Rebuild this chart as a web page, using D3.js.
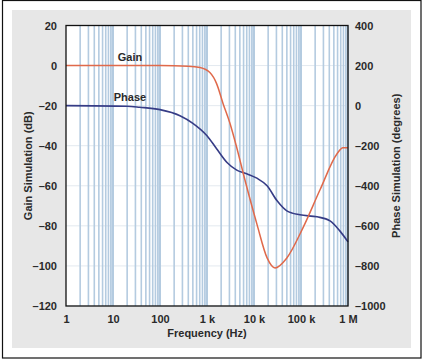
<!DOCTYPE html>
<html>
<head>
<meta charset="utf-8">
<script src="https://cdn.jsdelivr.net/npm/d3@7"></script>
<style>
  body { margin: 0; background: #fff; }
  text { font-family: "Liberation Sans", Arial, sans-serif; font-weight: bold; fill: #2a2a2a; }
</style>
</head>
<body>
<div id="chart"></div>
<script>
// values
var gainFreq = [1, 100, 400, 710, 1150, 1600, 2200, 3100, 4300, 6400, 11500, 19000, 28000, 50000, 110000, 254000, 585000, 780000, 1000000];
var gainDb   = [0, 0, -0.3, -1, -3.5, -9, -19, -29, -41, -57, -79, -96, -101, -96, -81, -62, -44, -41, -41];

var phaseFreq = [1, 20, 37, 100, 266, 500, 1000, 1600, 2700, 4300, 7000, 11500, 19000, 31000, 50000, 95000, 220000, 415000, 670000, 1000000];
var phaseDeg  = [0, -3, -8, -20, -50, -88, -150, -215, -285, -322, -340, -362, -400, -475, -525, -545, -555, -575, -625, -680];

var freqTicks = [1, 10, 100, 1000, 10000, 100000, 1000000];
var freqLabels = ['1', '10', '100', '1 k', '10 k', '100 k', '1 M'];
var gainTicks = [20, 0, -20, -40, -60, -80, -100, -120];
var phaseTicks = [400, 200, 0, -200, -400, -600, -800, -1000];

var W = 424, H = 363;
var margin = {top: 25.5, right: 76, bottom: 57, left: 66};
var width = W - margin.left - margin.right,
    height = H - margin.top - margin.bottom;

var svg = d3.select('#chart').append('svg')
    .attr('width', W)
    .attr('height', H);

// outer frame and grey panel
svg.append('rect')
    .attr('x', 2.5).attr('y', 0.5).attr('width', 418.5).attr('height', 357.5)
    .attr('fill', '#fff').attr('stroke', '#111').attr('stroke-width', 1.2);
svg.append('rect')
    .attr('x', 12).attr('y', 10).attr('width', 399).attr('height', 338)
    .attr('fill', '#e7e7e7');

var g = svg.append('g')
    .attr('transform', 'translate(' + margin.left + ',' + margin.top + ')');

var x = d3.scaleLog().domain([1, 1e6]).range([0, width]);
var y = d3.scaleLinear().domain([-120, 20]).range([height, 0]);
var y2 = d3.scaleLinear().domain([-1000, 400]).range([height, 0]);

g.append('rect')
    .attr('width', width).attr('height', height)
    .attr('fill', '#fff');

// blue tint band just below each decade
var decades = [10, 100, 1000, 10000, 100000, 1000000];
g.selectAll('.band')
    .data(decades)
  .enter().append('rect')
    .attr('x', function(d) { return x(d * 0.9); })
    .attr('width', function(d) { return x(d) - x(d * 0.9); })
    .attr('y', 0).attr('height', height)
    .attr('fill', '#dce8f3');

// horizontal grid
g.selectAll('.hgrid')
    .data(gainTicks)
  .enter().append('line')
    .attr('x1', 0).attr('x2', width)
    .attr('y1', function(d) { return y(d); })
    .attr('y2', function(d) { return y(d); })
    .attr('stroke', '#e3e9ef').attr('stroke-width', 1);

// vertical minor grid
var minor = [];
for (var dec = 1; dec < 1e6; dec *= 10) {
  for (var m = 2; m <= 10; m++) minor.push(dec * m);
}
g.selectAll('.vgrid')
    .data(minor)
  .enter().append('line')
    .attr('x1', function(d) { return x(d); })
    .attr('x2', function(d) { return x(d); })
    .attr('y1', 0).attr('y2', height)
    .attr('stroke', '#b4cbe0')
    .attr('stroke-width', function(d) { return decades.indexOf(d) >= 0 ? 2 : 1.6; });

// curves
var gainLine = d3.line()
    .x(function(d, i) { return x(gainFreq[i]); })
    .y(function(d) { return y(d); })
    .curve(d3.curveMonotoneX);

var phaseLine = d3.line()
    .x(function(d, i) { return x(phaseFreq[i]); })
    .y(function(d) { return y2(d); })
    .curve(d3.curveMonotoneX);

g.append('path')
    .datum(phaseDeg)
    .attr('d', phaseLine)
    .attr('fill', 'none')
    .attr('stroke', '#363c86')
    .attr('stroke-width', 1.6);

g.append('path')
    .datum(gainDb)
    .attr('d', gainLine)
    .attr('fill', 'none')
    .attr('stroke', '#e0694a')
    .attr('stroke-width', 1.5);

// frame
g.append('rect')
    .attr('width', width).attr('height', height)
    .attr('fill', 'none').attr('stroke', '#111').attr('stroke-width', 1.3);

// axes
function fmt(v) { return v < 0 ? '\u2013' + Math.abs(v) : String(v); }

var left = g.append('g')
    .call(d3.axisLeft(y).tickValues(gainTicks).tickSize(0).tickPadding(9).tickFormat(fmt));
var right = g.append('g')
    .attr('transform', 'translate(' + width + ',0)')
    .call(d3.axisRight(y2).tickValues(phaseTicks).tickSize(0).tickPadding(7).tickFormat(fmt));
var bottom = g.append('g')
    .attr('transform', 'translate(0,' + height + ')')
    .call(d3.axisBottom(x).tickValues(freqTicks).tickSize(0).tickPadding(9)
      .tickFormat(function(d, i) { return freqLabels[i]; }));

[left, right, bottom].forEach(function(a) {
  a.select('.domain').remove();
  a.selectAll('text').style('font-size', '11px').attr('fill', '#2a2a2a');
});

// titles
g.append('text')
    .attr('transform', 'translate(' + (-34) + ',' + (height / 2) + ') rotate(-90)')
    .attr('text-anchor', 'middle')
    .style('font-size', '11px')
    .text('Gain Simulation (dB)');

g.append('text')
    .attr('transform', 'translate(' + (width + 52) + ',' + (height / 2) + ') rotate(-90)')
    .attr('text-anchor', 'middle')
    .style('font-size', '11px')
    .text('Phase Simulation (degrees)');

g.append('text')
    .attr('x', width / 2).attr('y', height + 30.5)
    .attr('text-anchor', 'middle')
    .style('font-size', '11px')
    .text('Frequency (Hz)');

// series labels
g.append('text')
    .attr('x', x(23)).attr('y', y(2.5))
    .attr('text-anchor', 'middle')
    .style('font-size', '11px')
    .text('Gain');

g.append('text')
    .attr('x', x(23)).attr('y', y(-17.5))
    .attr('text-anchor', 'middle')
    .style('font-size', '11px')
    .text('Phase');
</script>
</body>
</html>
